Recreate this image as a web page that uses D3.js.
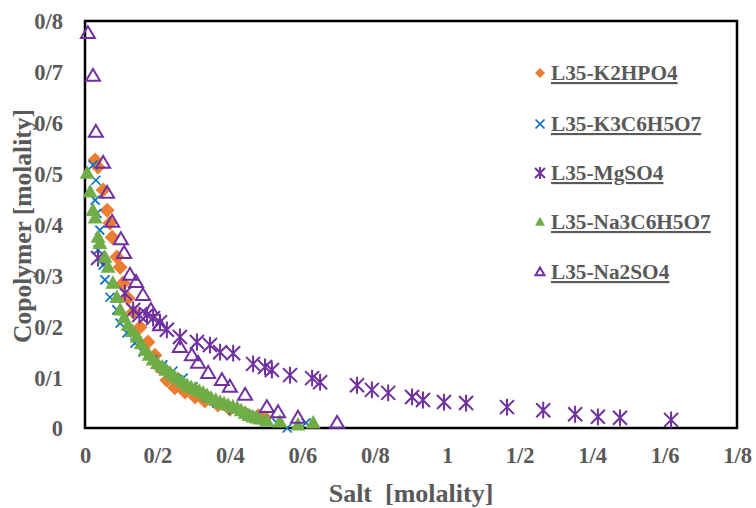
<!DOCTYPE html>
<html><head><meta charset="utf-8">
<script src="https://cdn.jsdelivr.net/npm/d3@7"></script>
<style>
html,body{margin:0;padding:0;background:#fff;}
svg{display:block;}
text{font-family:"Liberation Serif","Times New Roman",serif;font-weight:bold;fill:#595959;}
</style></head>
<body>
<svg id="c" width="756" height="508"></svg>
<script>
const seriesNames = ["L35-K2HPO4","L35-K3C6H5O7","L35-MgSO4","L35-Na3C6H5O7","L35-Na2SO4"];
const xTickValues = [0,0.2,0.4,0.6,0.8,1.0,1.2,1.4,1.6,1.8];
const xTickLabels = ["0","0/2","0/4","0/6","0/8","1","1/2","1/4","1/6","1/8"];
const yTickValues = [0,0.1,0.2,0.3,0.4,0.5,0.6,0.7,0.8];
const yTickLabels = ["0","0/1","0/2","0/3","0/4","0/5","0/6","0/7","0/8"];

const k2hpo4 = [[0.028,0.527],[0.036,0.513],[0.050,0.468],[0.061,0.428],[0.069,0.403],[0.075,0.375],[0.088,0.336],[0.097,0.316],[0.105,0.285],[0.119,0.255],[0.133,0.228],[0.152,0.198],[0.174,0.169],[0.193,0.143],[0.207,0.118],[0.226,0.094],[0.248,0.079],[0.276,0.071],[0.304,0.061],[0.331,0.053],[0.367,0.045],[0.400,0.037],[0.442,0.029],[0.478,0.024],[0.497,0.020]];
const k3c6h5o7 = [[0.022,0.517],[0.030,0.487],[0.028,0.448],[0.033,0.422],[0.041,0.389],[0.036,0.350],[0.050,0.320],[0.055,0.291],[0.069,0.257],[0.088,0.232],[0.097,0.206],[0.116,0.187],[0.138,0.167],[0.160,0.149],[0.188,0.134],[0.215,0.124],[0.243,0.112],[0.271,0.098],[0.298,0.081],[0.337,0.061],[0.364,0.049],[0.409,0.035],[0.447,0.026],[0.491,0.016],[0.530,0.010],[0.558,0.000],[0.610,0.010]];
const mgso4 = [[0.036,0.334],[0.110,0.265],[0.133,0.232],[0.150,0.222],[0.171,0.222],[0.188,0.216],[0.207,0.208],[0.226,0.193],[0.262,0.179],[0.309,0.169],[0.345,0.163],[0.373,0.149],[0.409,0.147],[0.464,0.126],[0.497,0.120],[0.516,0.114],[0.566,0.104],[0.627,0.098],[0.649,0.090],[0.751,0.084],[0.792,0.075],[0.837,0.069],[0.903,0.061],[0.933,0.055],[0.991,0.051],[1.052,0.049],[1.165,0.041],[1.265,0.035],[1.353,0.027],[1.416,0.022],[1.477,0.020],[1.618,0.016]];
const na3c6h5o7 = [[0.006,0.501],[0.014,0.464],[0.022,0.428],[0.028,0.413],[0.036,0.375],[0.041,0.363],[0.055,0.336],[0.064,0.316],[0.077,0.285],[0.088,0.257],[0.097,0.232],[0.108,0.217],[0.119,0.202],[0.131,0.190],[0.144,0.179],[0.155,0.166],[0.166,0.153],[0.177,0.143],[0.188,0.134],[0.200,0.127],[0.213,0.120],[0.224,0.114],[0.235,0.108],[0.246,0.102],[0.257,0.096],[0.270,0.090],[0.282,0.084],[0.293,0.080],[0.304,0.077],[0.315,0.073],[0.326,0.069],[0.337,0.064],[0.348,0.059],[0.361,0.055],[0.373,0.051],[0.384,0.048],[0.395,0.045],[0.408,0.042],[0.420,0.039],[0.431,0.034],[0.442,0.029],[0.453,0.025],[0.464,0.022],[0.474,0.020],[0.483,0.018],[0.502,0.014],[0.538,0.012],[0.588,0.006],[0.630,0.010]];
const na2so4 = [[0.008,0.776],[0.022,0.692],[0.030,0.582],[0.050,0.521],[0.061,0.462],[0.075,0.405],[0.099,0.371],[0.108,0.344],[0.124,0.301],[0.141,0.287],[0.160,0.261],[0.182,0.232],[0.207,0.202],[0.262,0.159],[0.295,0.143],[0.312,0.128],[0.340,0.108],[0.378,0.094],[0.400,0.081],[0.442,0.065],[0.502,0.041],[0.533,0.031],[0.588,0.020],[0.696,0.010]];

const colors = ["#ED7D31","#0070C0","#7030A0","#70AD47","#7030A0"];
const seriesData = [k2hpo4,k3c6h5o7,mgso4,na3c6h5o7,na2so4];

const svg = d3.select("#c");
const x = d3.scaleLinear().domain([0,1.8]).range([85,737]);
const y = d3.scaleLinear().domain([0,0.8]).range([428,21]);

function marker(g, type, color, s){
  if(type===0){ // diamond
    g.append("path").attr("d",`M0,${-s}L${s},0L0,${s}L${-s},0Z`).attr("fill",color);
  } else if(type===1){ // x
    g.append("path").attr("d",`M${-s},${-s}L${s},${s}M${-s},${s}L${s},${-s}`).attr("stroke",color).attr("stroke-width",1.7).attr("fill","none");
  } else if(type===2){ // star
    g.append("path").attr("d",`M${-s},${-s}L${s},${s}M${-s},${s}L${s},${-s}M0,${-s*1.2}L0,${s*1.2}`).attr("stroke",color).attr("stroke-width",2).attr("fill","none");
  } else if(type===3){ // filled triangle
    g.append("path").attr("d",`M0,${-s*1.05}L${s},${s*0.75}L${-s},${s*0.75}Z`).attr("fill",color);
  } else { // open triangle
    g.append("path").attr("d",`M0,${-s*1.0}L${s},${s*0.7}L${-s},${s*0.7}Z`).attr("fill","none").attr("stroke",color).attr("stroke-width",2);
  }
}

const xAxis = d3.axisBottom(x).tickValues(xTickValues).tickSize(0).tickPadding(0)
  .tickFormat((d,i)=>xTickLabels[i]);
const yAxis = d3.axisLeft(y).tickValues(yTickValues).tickSize(0).tickPadding(0)
  .tickFormat((d,i)=>yTickLabels[i]);

const gx = svg.append("g").attr("transform","translate(0,428)").call(xAxis);
gx.select(".domain").remove();
gx.selectAll("text").attr("dy",null).attr("y",35).style("font-size","22.5px")
  .attr("font-family",null).attr("fill","#595959");

const gy = svg.append("g").attr("transform","translate(85,0)").call(yAxis);
gy.select(".domain").remove();
gy.selectAll("text").attr("x",-22).attr("dy","0.35em").style("font-size","22.5px")
  .attr("font-family",null).attr("fill","#595959");

svg.append("rect").attr("x",85).attr("y",21).attr("width",652).attr("height",407)
  .attr("fill","none").attr("stroke","#000").attr("stroke-width",2.5);

const sizes = [7.5,4.5,7,7.5,7];
seriesData.forEach((data,si)=>{
  const g = svg.append("g");
  data.forEach(d=>{
    const m = g.append("g").attr("transform",`translate(${x(d[0])},${y(d[1])})`);
    marker(m, si, colors[si], sizes[si]);
  });
});

const legY = [73,124,173,222,272];
seriesNames.forEach((n,i)=>{
  const m = svg.append("g").attr("transform",`translate(540,${legY[i]})`);
  marker(m, i, colors[i], i===1?4.5:(i===4?4.5:5));
  svg.append("text").attr("x",551).attr("y",legY[i]+7).text(n)
    .style("font-size","21.3px").style("text-decoration","underline");
});

svg.append("text").attr("x",411).attr("y",502).attr("text-anchor","middle")
  .style("font-size","26px").attr("xml:space","preserve").text("Salt  [molality]");
svg.append("text").attr("transform","translate(31,226) rotate(-90)").attr("text-anchor","middle")
  .style("font-size","25.5px").text("Copolymer [molality]");
</script>
</body></html>
